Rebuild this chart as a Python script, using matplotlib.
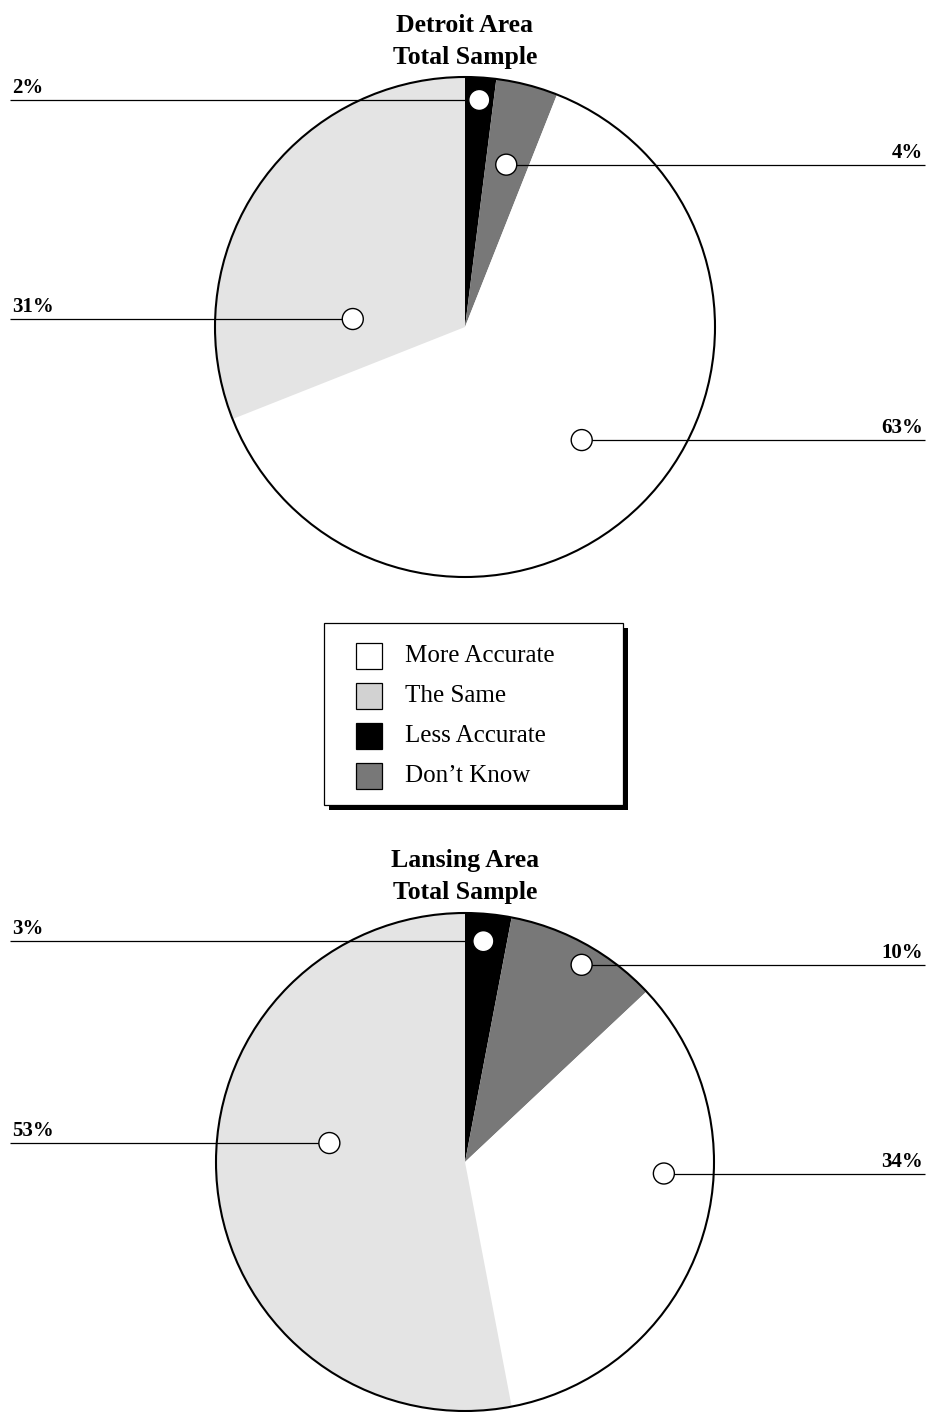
import matplotlib
matplotlib.use("Agg")
import matplotlib.pyplot as plt
from matplotlib.patches import Circle, Rectangle
import numpy as np

# ---- data -------------------------------------------------------------
categories = ["More Accurate", "The Same", "Less Accurate", "Don\u2019t Know"]
slice_colors = ["#ffffff", "#e4e4e4", "#000000", "#787878"]
legend_colors = ["#ffffff", "#d2d2d2", "#000000", "#787878"]
# clockwise drawing order starting at 12 o'clock
pie_order = [2, 3, 0, 1]

detroit_title = ["Detroit Area", "Total Sample"]
detroit_values = [63, 31, 2, 4]

lansing_title = ["Lansing Area", "Total Sample"]
lansing_values = [34, 53, 3, 10]

# ---- layout (pixel space, origin bottom-left) -------------------------
W, H = 926, 1412
FONT = "Liberation Serif"

# marker placement per category: (fraction along the wedge sweep,
# fraction of radius, side of the label)
detroit_markers = {0: (0.496, 0.65, "right"), 1: (0.23, 0.45, "left"),
                   2: (0.50, 0.91, "left"), 3: (0.49, 0.67, "right")}
lansing_markers = {0: (0.38, 0.80, "right"), 1: (0.57, 0.55, "left"),
                   2: (0.44, 0.89, "left"), 3: (0.55, 0.92, "right")}

fig = plt.figure(figsize=(W / 100, H / 100), dpi=100)
ax = fig.add_axes([0, 0, 1, 1])


def draw_pie(values, title_lines, center, radius, markers, title_base):
    vals = [values[i] for i in pie_order]
    cols = [slice_colors[i] for i in pie_order]
    wedges, _ = ax.pie(vals, colors=cols, startangle=90, counterclock=False,
                       center=center, radius=radius,
                       wedgeprops=dict(linewidth=0, edgecolor="none"))
    ax.add_patch(Circle(center, radius, fill=False, edgecolor="black",
                        linewidth=1.5, zorder=3))
    for w, idx in zip(wedges, pie_order):
        frac, rfrac, side = markers[idx]
        ang = np.deg2rad(w.theta2 - frac * (w.theta2 - w.theta1))
        mx = center[0] + rfrac * radius * np.cos(ang)
        my = center[1] + rfrac * radius * np.sin(ang)
        x_end = 10 if side == "left" else 925
        ax.plot([x_end, mx], [my, my], color="black", linewidth=0.9,
                zorder=4, solid_capstyle="butt")
        ax.add_patch(Circle((mx, my), 10.5, facecolor="white",
                            edgecolor="black", linewidth=1.0, zorder=5))
        tx = 12 if side == "left" else 923
        ax.text(tx, my + 7, f"{values[idx]}%", ha=side, va="baseline",
                fontsize=15, fontweight="bold", family=FONT, zorder=6)
    for k, line in enumerate(title_lines):
        ax.text(center[0], title_base - 32 * k, line, ha="center",
                va="baseline", fontsize=18.5, fontweight="bold", family=FONT)


draw_pie(detroit_values, detroit_title, (465, H - 327), 250,
         detroit_markers, H - 32)
draw_pie(lansing_values, lansing_title, (465, H - 1162), 249,
         lansing_markers, H - 867)

# ---- legend box with solid drop shadow -------------------------------
bx, by_top, bw, bh = 324, 623, 299, 182
shadow = 5
ax.add_patch(Rectangle((bx + shadow, H - by_top - bh - shadow), bw, bh,
                       facecolor="black", edgecolor="none", zorder=6))
ax.add_patch(Rectangle((bx, H - by_top - bh), bw, bh, facecolor="white",
                       edgecolor="black", linewidth=0.9, zorder=7))
row_y = [656, 696, 736, 776]
for i, (lab, col) in enumerate(zip(categories, legend_colors)):
    yc = H - row_y[i]
    ax.add_patch(Rectangle((356, yc - 13), 26, 26, facecolor=col,
                           edgecolor="black", linewidth=0.9, zorder=8))
    ax.text(405, yc, lab, ha="left", va="center", fontsize=18,
            family=FONT, zorder=8)

ax.set_xlim(0, W)
ax.set_ylim(0, H)
ax.set_aspect("auto")
ax.axis("off")

fig.savefig("out.png", dpi=100, facecolor="white")
